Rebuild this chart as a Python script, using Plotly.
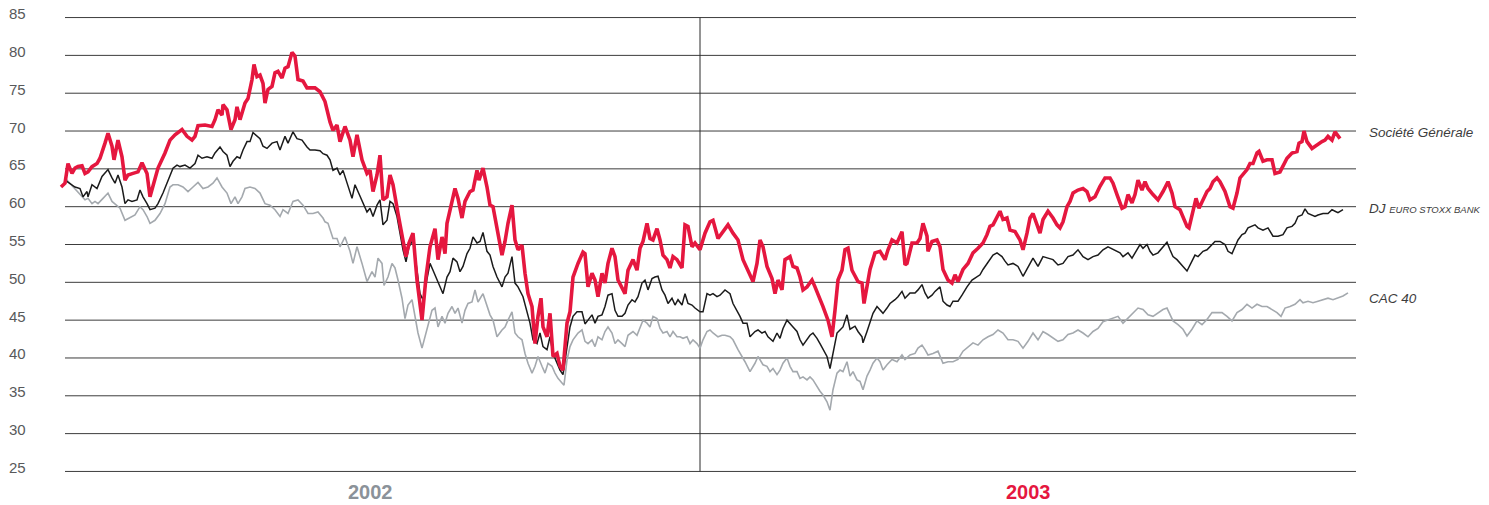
import plotly.graph_objects as go

# time position (638 units = one year; 0 = start of 2002, 638 = start of 2003)
sg_t = [-1,3,6,10,13,16,20,23,26,30,35,38,43,46,50,52,56,60,63,66,71,76,80,85,88,91,96,103,108,113,120,125,130,133,136,143,150,153,156,160,161,165,169,173,175,178,183,186,190,192,195,198,201,203,206,210,213,216,220,223,226,230,233,236,241,245,253,258,263,268,271,275,278,283,288,291,295,300,305,308,311,315,318,321,325,328,331,336,341,344,347,351,355,360,364,368,373,376,380,383,385,390,393,396,400,403,408,411,415,417,421,425,428,431,435,440,443,446,450,453,456,460,463,466,470,473,476,479,481,485,488,491,495,498,501,505,508,511,516,521,523,526,530,533,536,540,543,546,550,553,556,560,563,566,571,575,578,581,585,588,591,595,598,601,605,608,611,615,620,623,626,630,633,638,643,648,651,656,661,666,671,676,681,686,691,695,698,701,705,710,713,716,720,723,728,731,735,738,741,745,750,753,756,761,766,770,773,776,780,783,786,790,796,800,802,805,808,813,818,823,826,830,835,840,843,845,850,855,858,861,865,866,870,875,878,881,886,890,893,896,901,906,911,916,921,925,928,931,935,938,941,945,948,953,958,961,965,968,971,975,978,981,986,991,995,998,1001,1005,1008,1011,1016,1021,1025,1028,1033,1038,1043,1048,1051,1055,1060,1063,1066,1070,1073,1076,1080,1083,1086,1091,1096,1101,1106,1110,1113,1118,1121,1125,1127,1130,1134,1137,1141,1145,1148,1151,1155,1158,1163,1168,1171,1175,1178,1181,1185,1188,1191,1195,1197,1201,1205,1210,1213,1218,1221,1225,1230,1235,1237,1240,1242,1245,1250,1255,1260,1263,1266,1270,1273,1278]
sg_v = [62.6,63.1,65.7,64.4,65.1,65.3,65.4,64.4,64.6,65.3,65.7,66.4,68.4,69.7,68.0,66.2,68.8,66.6,63.5,64.2,64.4,64.6,65.8,64.4,61.3,62.6,65.1,67.1,68.8,69.5,70.2,69.3,68.8,69.3,70.7,70.8,70.6,71.5,72.8,72.1,73.5,72.8,70.2,71.5,73.2,71.5,73.7,74.3,76.8,78.8,77.2,77.4,76.3,73.7,75.5,75.9,77.7,77.9,77.0,78.3,78.5,80.4,79.9,76.8,76.6,75.7,75.7,75.2,73.9,71.2,70.1,70.8,68.6,70.6,68.8,66.6,69.5,66.2,64.4,64.8,62.0,64.2,66.8,60.9,61.3,64.2,62.9,59.1,55.6,53.4,55.2,56.5,50.3,45.0,50.7,54.7,57.1,53.0,56.0,53.8,57.8,60.9,62.4,61.1,58.5,60.7,62.0,62.2,64.8,63.5,65.1,62.6,60.2,60.0,56.9,53.6,55.4,57.8,60.2,55.6,54.3,54.9,51.2,48.5,46.8,41.9,45.5,47.9,44.1,42.8,45.9,40.2,40.6,38.9,38.4,44.6,46.1,50.7,52.5,54.0,53.8,49.4,51.2,50.3,48.1,51.2,49.9,52.5,54.5,53.4,50.3,49.2,48.5,51.6,53.0,51.6,54.5,55.4,57.8,55.8,55.6,57.1,55.6,53.6,53.0,51.9,53.4,53.0,51.9,57.6,57.4,54.7,55.2,54.3,56.5,58.0,58.2,55.8,56.7,57.6,56.5,55.6,53.0,51.6,50.1,52.5,55.6,54.7,52.1,50.5,48.5,50.3,49.0,53.0,53.4,52.1,51.9,50.7,49.0,49.4,50.3,49.4,48.5,46.8,45.0,42.8,46.3,50.3,51.6,54.3,54.5,51.6,50.1,49.9,47.2,49.4,51.7,53.9,54.1,53.0,54.3,55.6,55.2,56.7,52.3,52.5,55.2,55.2,55.8,57.8,56.1,54.1,55.4,55.6,54.7,51.7,50.3,49.9,51.0,50.1,51.7,52.5,53.9,54.5,55.2,56.3,57.4,57.6,58.7,59.4,58.3,58.5,56.9,56.7,55.6,54.3,56.5,58.5,59.1,57.4,56.5,58.3,59.4,58.5,57.6,57.2,58.0,60.0,60.7,61.8,62.2,62.4,62.0,60.9,61.3,62.7,63.8,63.8,63.1,61.6,59.8,60.0,61.6,60.5,61.6,63.5,62.2,63.3,62.4,61.6,60.9,62.0,63.3,61.8,60.0,59.6,58.7,57.4,57.2,59.1,61.1,59.8,60.9,62.0,62.4,63.3,63.8,63.3,62.0,60.0,59.8,61.8,63.8,64.2,64.9,65.7,65.7,67.1,67.3,66.0,66.2,66.2,64.4,64.6,65.3,66.4,67.1,67.3,68.4,68.6,70.0,68.6,67.7,68.2,68.6,68.8,69.3,68.8,69.9,69.0]

dj_t = [3,8,13,18,21,25,26,30,35,40,43,46,50,53,56,60,63,66,70,75,78,81,85,88,93,96,101,106,111,115,118,123,128,133,136,140,145,150,153,158,161,165,168,171,175,178,181,185,188,191,195,198,201,205,210,215,218,223,226,231,235,240,245,248,253,258,261,265,268,271,275,278,281,285,290,293,296,301,305,308,311,315,318,321,325,328,331,335,338,341,344,347,351,355,358,361,364,368,371,375,378,381,385,388,391,395,398,401,405,408,411,415,418,421,425,428,431,435,440,443,446,450,453,456,461,465,468,471,475,478,481,485,488,491,495,498,501,505,508,511,515,520,523,526,530,533,536,540,543,546,550,553,556,560,563,566,570,573,576,580,583,586,590,593,596,600,603,606,610,613,616,620,623,626,630,633,638,641,645,648,651,655,658,663,668,671,675,678,681,685,688,693,696,700,703,706,711,715,718,721,725,728,731,735,738,741,745,748,751,755,758,761,765,768,771,775,778,781,785,788,793,796,800,801,805,808,811,815,818,821,825,828,833,836,840,843,848,853,856,860,863,866,870,873,878,881,885,888,891,896,900,905,910,915,918,921,925,928,931,935,940,943,946,951,956,961,966,971,976,981,986,991,996,1001,1006,1011,1016,1021,1026,1031,1036,1041,1046,1051,1058,1061,1066,1070,1073,1078,1081,1085,1088,1091,1096,1101,1105,1108,1111,1115,1118,1121,1125,1128,1133,1136,1141,1145,1148,1153,1158,1163,1166,1170,1173,1176,1180,1183,1186,1190,1193,1196,1201,1206,1211,1216,1221,1225,1230,1233,1236,1240,1243,1246,1250,1253,1256,1261,1266,1270,1273,1276,1281]
dj_v = [63.5,63.1,62.6,62.4,61.3,62.0,61.3,62.9,62.4,64.0,64.4,64.9,63.8,63.1,64.2,62.6,60.4,60.9,60.7,60.9,62.2,61.3,60.4,59.6,59.8,60.4,61.8,63.5,65.1,65.5,65.3,65.5,65.1,65.7,66.8,66.4,66.6,66.4,67.1,67.9,67.3,66.8,65.3,66.0,66.6,66.4,67.5,68.6,68.6,69.8,69.3,69.0,68.0,67.7,68.4,68.6,67.5,69.3,68.4,69.9,69.0,68.8,67.9,67.5,67.5,67.4,67.0,66.8,66.2,64.8,65.1,64.2,64.8,63.1,61.1,62.9,62.0,60.4,59.3,59.8,58.7,60.2,60.9,57.6,58.2,60.7,60.4,58.7,56.5,54.3,52.7,54.7,55.6,51.2,48.5,47.7,49.9,52.5,51.6,50.3,49.4,48.5,50.7,51.4,53.2,52.7,51.4,52.1,53.8,54.5,56.0,55.2,55.4,56.6,54.1,53.6,52.1,50.7,49.4,50.7,51.2,53.4,49.9,49.4,48.1,45.9,44.6,42.4,41.9,43.3,41.5,41.1,42.8,40.6,39.3,38.4,37.8,41.1,44.1,45.5,46.1,46.1,44.5,45.0,45.7,44.6,45.5,45.7,46.8,48.3,48.5,46.3,45.5,45.5,45.9,47.0,47.7,47.4,48.1,49.9,50.3,49.0,50.5,50.7,50.8,49.0,48.3,47.2,47.9,47.0,47.7,47.0,48.5,47.2,47.0,46.6,46.1,46.1,48.5,48.3,48.5,48.1,48.3,49.0,48.5,47.2,46.3,45.5,44.6,44.6,42.8,43.5,43.7,43.3,43.5,42.8,42.2,43.3,42.6,43.9,45.0,44.6,44.1,43.5,42.4,41.7,42.4,43.0,43.3,42.6,41.9,41.1,40.2,38.6,40.6,43.3,43.7,44.1,45.7,43.8,44.2,43.5,42.8,42.0,43.5,44.6,45.9,46.8,46.4,45.9,46.6,47.2,47.7,48.1,48.8,47.9,48.6,48.6,49.0,49.7,48.6,47.9,48.3,48.8,49.4,47.5,47.0,46.8,47.5,47.5,48.3,49.4,50.3,50.8,51.0,51.7,52.5,53.0,53.6,53.9,53.4,52.8,52.3,52.5,52.1,50.8,52.1,53.2,52.1,53.4,53.2,53.0,52.3,52.5,53.4,53.6,54.3,53.4,53.0,53.4,53.6,54.3,54.7,54.4,53.9,53.4,53.9,53.2,53.9,55.0,54.5,55.0,54.1,53.6,53.9,54.7,55.3,54.3,53.4,53.0,52.5,52.1,51.5,52.3,53.6,53.4,54.1,54.3,54.7,55.4,55.4,55.0,54.1,53.8,54.7,55.6,56.3,56.5,57.2,57.4,57.6,57.2,56.9,57.2,56.1,56.1,56.3,57.2,57.4,57.8,58.7,58.9,59.7,59.1,58.9,58.7,58.9,59.1,59.1,59.6,59.4,59.2,59.6]

cac_t = [3,8,13,16,20,23,26,30,33,36,41,46,50,53,58,63,68,73,78,81,85,88,93,98,103,108,111,116,121,126,131,136,141,146,151,155,160,165,169,173,176,180,183,188,193,198,203,208,213,218,221,226,231,236,241,246,251,256,261,263,266,271,275,278,283,288,291,295,300,305,310,313,316,320,322,326,330,333,336,340,343,346,350,353,356,360,363,366,370,373,376,380,383,386,390,393,396,400,403,406,410,413,416,421,425,428,431,435,440,443,446,450,453,456,460,463,466,470,473,476,480,483,486,490,493,496,500,502,505,508,511,516,520,523,526,530,533,536,540,543,546,550,553,556,560,563,566,571,575,578,581,585,588,591,595,598,601,605,608,611,615,618,621,625,628,631,635,638,641,645,648,651,656,660,663,668,671,676,680,683,688,693,696,701,705,708,711,715,718,721,725,728,731,735,738,741,745,748,751,755,758,761,765,768,771,775,778,781,785,788,791,795,798,801,805,808,811,815,818,821,825,830,835,840,843,848,853,856,860,863,866,871,876,881,886,891,896,901,906,911,916,921,926,931,936,941,946,951,956,961,966,971,976,981,986,991,996,1001,1006,1011,1016,1021,1026,1031,1036,1041,1046,1051,1056,1061,1066,1071,1076,1081,1086,1091,1096,1101,1105,1108,1111,1116,1121,1125,1130,1135,1140,1145,1150,1155,1160,1165,1170,1175,1180,1185,1190,1195,1200,1205,1210,1215,1219,1223,1228,1233,1238,1241,1246,1251,1256,1261,1266,1271,1276,1281,1286]
cac_v = [63.8,63.1,62.4,62.0,61.3,60.9,61.1,60.4,60.7,60.4,61.1,61.8,60.7,60.4,59.8,58.2,58.5,58.9,60.0,59.6,58.7,57.8,58.2,59.1,60.4,62.6,62.9,62.9,62.6,62.0,62.6,63.2,62.4,62.6,63.1,63.8,62.6,61.8,60.4,61.3,60.4,61.3,62.4,62.6,62.4,61.8,60.4,60.2,59.6,58.7,59.6,59.1,60.7,60.9,60.2,59.1,59.1,59.3,58.5,58.0,57.8,55.8,55.8,54.7,56.0,54.1,52.5,54.7,52.5,50.1,51.4,50.7,53.2,52.5,49.6,50.7,52.5,51.9,50.3,47.9,45.2,47.0,47.7,45.5,43.3,41.3,42.8,44.6,46.3,46.6,44.1,45.5,44.6,45.9,46.8,45.9,46.6,44.6,46.3,47.2,47.4,49.0,47.4,48.5,47.0,45.7,45.0,42.8,43.7,44.1,45.0,46.1,43.3,42.8,42.4,40.6,39.3,38.0,38.9,40.2,38.9,38.0,39.3,38.9,38.0,37.3,36.7,36.4,39.7,41.5,42.4,43.3,43.7,42.2,41.9,42.4,41.5,42.8,42.4,43.5,44.1,43.3,41.9,42.4,41.9,41.5,43.0,43.5,43.0,43.9,45.0,44.6,44.1,45.5,45.2,43.9,43.3,43.5,42.8,43.5,42.8,42.8,42.6,42.8,41.9,42.4,41.9,41.3,42.4,43.5,43.7,43.3,42.8,43.0,43.0,42.8,42.4,41.1,40.2,39.5,38.2,39.3,40.2,39.1,38.9,38.2,38.6,37.8,38.4,39.3,40.0,38.9,38.2,38.2,37.3,37.5,37.1,37.5,37.1,36.2,35.6,35.1,34.2,33.1,35.8,38.0,38.4,38.2,39.5,37.6,38.2,37.1,36.9,35.8,37.6,38.4,39.3,40.0,39.5,38.4,39.1,39.8,39.5,40.4,39.8,40.4,40.6,41.3,41.7,41.1,40.4,40.6,40.9,39.3,39.5,39.5,39.8,40.9,41.5,42.0,41.7,42.4,42.8,43.1,43.7,43.3,42.4,42.4,42.2,41.3,42.2,43.3,42.4,43.5,43.1,42.6,42.2,42.4,43.1,43.3,43.7,43.3,42.8,43.5,43.9,44.8,45.0,45.2,45.5,44.6,45.3,46.0,46.6,46.4,45.7,45.5,46.0,46.4,46.6,45.7,44.9,44.4,43.8,42.9,43.8,44.9,44.4,45.1,46.0,46.0,46.0,45.5,44.9,46.0,46.4,47.1,46.6,47.1,46.8,46.8,46.4,46.0,45.5,46.6,46.8,47.1,47.7,47.3,47.5,47.3,47.5,47.7,47.9,47.7,47.9,48.2,48.6]

y_ticks = [85, 80, 75, 70, 65, 60, 55, 50, 45, 40, 35, 30, 25]
year_labels = ["2002", "2003"]
year_pos = [308, 966]
year_boundary = 638
series_names = ["Société Générale", "DJ EURO STOXX BANK", "CAC 40"]
label_levels = [69.8, 59.7, 47.8]

RED = "#e5173f"
BLACK = "#1b1b1b"
GREY = "#a4a9ae"
TXT = "#58595b"
LABEL_TXT = "#3d3d3d"

fig = go.Figure()
fig.add_trace(go.Scatter(x=cac_t, y=cac_v, mode="lines", line=dict(color=GREY, width=1.6), name=series_names[2]))
fig.add_trace(go.Scatter(x=dj_t, y=dj_v, mode="lines", line=dict(color=BLACK, width=1.5), name=series_names[1]))
fig.add_trace(go.Scatter(x=sg_t, y=sg_v, mode="lines", line=dict(color=RED, width=3.6), name=series_names[0]))

shapes = []
for v in y_ticks:
    shapes.append(dict(type="line", xref="x", yref="y", x0=3, x1=1294, y0=v, y1=v,
                       line=dict(color="#3c3c3c", width=1), layer="below"))
shapes.append(dict(type="line", xref="x", yref="y", x0=year_boundary, x1=year_boundary,
                   y0=min(y_ticks), y1=max(y_ticks), line=dict(color="#2a2a2a", width=1), layer="below"))

ann = []
for v in y_ticks:
    ann.append(dict(xref="paper", yref="y", x=-0.0206, y=v, text=str(v), showarrow=False,
                    xanchor="right", yanchor="middle", yshift=4,
                    font=dict(family="Liberation Sans, Arial, sans-serif", size=15, color=TXT)))
year_colors = ["#8b9299", RED]
for lab, pos, col in zip(year_labels, year_pos, year_colors):
    ann.append(dict(xref="x", yref="paper", x=pos, y=-0.028, text="<b>%s</b>" % lab, showarrow=False,
                    xanchor="center", yanchor="middle",
                    font=dict(family="Liberation Sans, Arial, sans-serif", size=20, color=col)))
label_texts = ["<i>Société Générale</i>",
               "<i>DJ <span style='font-size:9.5px'>EURO STOXX BANK</span></i>",
               "<i>CAC 40</i>"]
for txt, lv in zip(label_texts, label_levels):
    ann.append(dict(xref="paper", yref="y", x=1.0015, y=lv, text=txt, showarrow=False,
                    xanchor="left", yanchor="middle",
                    font=dict(family="Liberation Sans Narrow, Arial Narrow, Liberation Sans, sans-serif",
                              size=13.5, color=LABEL_TXT)))

fig.update_layout(
    width=1489, height=505,
    margin=dict(l=55, r=124, t=10, b=26),
    paper_bgcolor="white", plot_bgcolor="white",
    showlegend=False,
    xaxis=dict(range=[-7, 1303], visible=False),
    yaxis=dict(range=[24, 86], visible=False),
    shapes=shapes, annotations=ann,
)
fig.write_html("out.html")
